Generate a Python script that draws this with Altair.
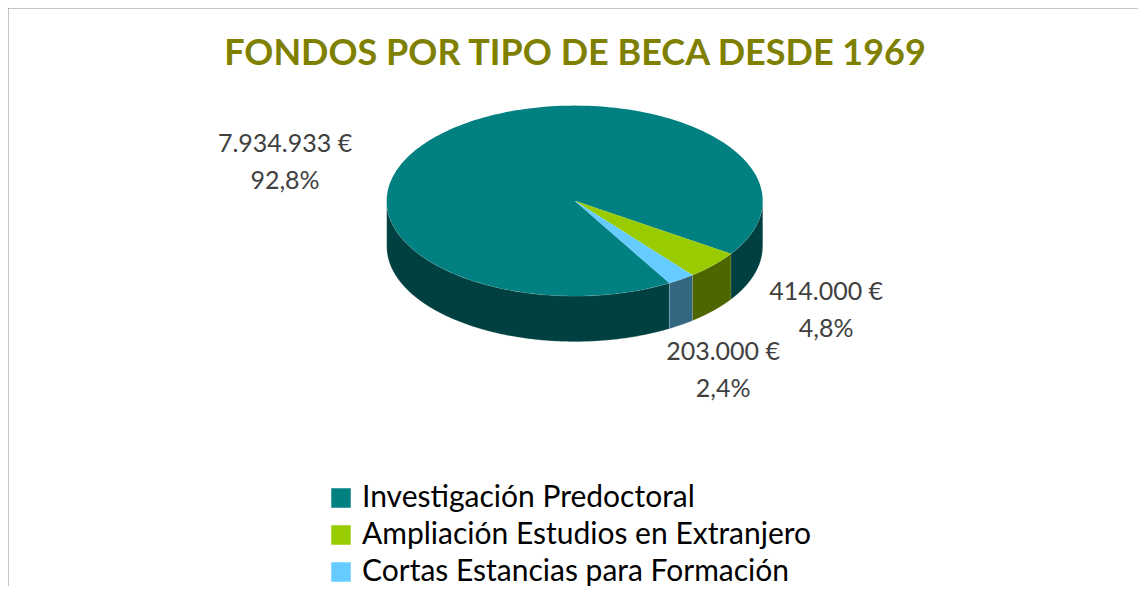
import altair as alt
import pandas as pd

# ---- data ----
categories = [
    "Investigación Predoctoral",
    "Ampliación Estudios en Extranjero",
    "Cortas Estancias para Formación",
]
values = [7934933, 414000, 203000]
TITLE = "FONDOS POR TIPO DE BECA DESDE 1969"

# ---- style ----
top_colors = ["#008080", "#99CC00", "#66CCFF"]
side_colors = ["#004040", "#4D6600", "#336680"]
label_dx = [-161, 113, 42]
label_dy = [13, 27, 73]

W, H = 1130, 578
CX, CY = 566.7, 192.8      # centre of top face
A, B = 188.0, 95.2          # radii of top face
AB, BB, CYB = 188.0, 95.2, 238.5  # bottom rim
T0 = 59.8                   # start angle of first slice (deg, clockwise from 3 o'clock)
K = 240

total = sum(values)


def eur(v):
    return f"{v:,}".replace(",", ".") + " €"


def pct(v):
    return f"{100 * v / total:.1f}".replace(".", ",") + "%"


df = pd.DataFrame({
    "cat": categories,
    "value": values,
    "order": list(range(len(values))),
    "side": side_colors,
    "vlab": [eur(v) for v in values],
    "plab": [pct(v) for v in values],
    "dx": label_dx,
    "dy": label_dy,
})

X = alt.X("x:Q", scale=alt.Scale(domain=[0, W], nice=False, zero=False), axis=None)
Y = alt.Y("y:Q", scale=alt.Scale(domain=[0, H], nice=False, zero=False, reverse=True), axis=None)

base = alt.Chart(df).transform_joinaggregate(
    total="sum(value)"
).transform_window(
    cum="sum(value)", sort=[alt.SortField("order")], frame=[None, 0]
).transform_calculate(
    ts=f"{T0} + 360 * (datum.cum - datum.value) / datum.total",
    te=f"{T0} + 360 * datum.cum / datum.total",
)

# side walls (front half only)
side = base.transform_calculate(
    pc="sequence(0, 2)"
).transform_flatten(["pc"], as_=["piece"]).transform_calculate(
    lo="max(datum.ts, datum.piece * 360)",
    hi="min(datum.te, datum.piece * 360 + 180)",
).transform_filter("datum.lo < datum.hi").transform_calculate(
    sid="datum.cat + '-' + datum.piece",
    ks=f"sequence(0, {2 * (K + 1)})",
).transform_flatten(["ks"], as_=["k"]).transform_calculate(
    bot=f"datum.k > {K} ? 1 : 0",
    j=f"datum.k > {K} ? datum.k - {K + 1} : datum.k",
    t=f"(datum.bot ? datum.hi - (datum.hi - datum.lo) * datum.j / {K} : datum.lo + (datum.hi - datum.lo) * datum.j / {K}) * PI / 180",
    x=f"{CX} + (datum.bot ? {AB} : {A}) * cos(datum.t)",
    y=f"datum.bot ? {CYB} + {BB} * sin(datum.t) : {CY} + {B} * sin(datum.t)",
).mark_line(filled=True, stroke="#ffffff", strokeWidth=0.6, strokeOpacity=0.4).encode(
    x=X, y=Y,
    color=alt.Color("side:N", scale=None),
    detail="sid:N",
    order=alt.Order("k:Q"),
)

# top face
top = base.transform_calculate(
    ks=f"sequence(-1, {K + 1})"
).transform_flatten(["ks"], as_=["k"]).transform_calculate(
    t=f"(datum.ts + (datum.te - datum.ts) * max(datum.k, 0) / {K}) * PI / 180",
    x=f"datum.k < 0 ? {CX} : {CX} + {A} * cos(datum.t)",
    y=f"datum.k < 0 ? {CY} : {CY} + {B} * sin(datum.t)",
).mark_line(filled=True).encode(
    x=X, y=Y,
    color=alt.Color(
        "cat:N",
        scale=alt.Scale(domain=categories, range=top_colors),
        legend=alt.Legend(
            orient="none", legendX=318, legendY=475, direction="vertical",
            title=None, symbolType="square", symbolSize=380, symbolStrokeWidth=0,
            labelFont="Lato", labelFontSize=30, labelColor="#000000",
            rowPadding=7, labelOffset=6, labelLimit=0,
        ),
    ),
    order=alt.Order("k:Q"),
)

labels = base.transform_calculate(
    mid="(datum.ts + datum.te) / 2 * PI / 180",
    x=f"{CX} + {A} * cos(datum.mid) + datum.dx",
    y=f"{CY} + {B} * sin(datum.mid) + datum.dy",
    txt="datum.vlab + '\\n' + datum.plab",
).mark_text(
    font="Lato", fontSize=25, color="#404040", lineBreak="\n", lineHeight=37,
    baseline="middle", align="center",
).encode(x=X, y=Y, text="txt:N")

title = alt.Chart(pd.DataFrame({"t": [TITLE]})).mark_text(
    font="Lato", fontWeight="bold", fontSize=36, color="#808000",
    align="center", baseline="alphabetic",
).encode(x=alt.value(567), y=alt.value(57), text="t:N")

left_rule = alt.Chart(pd.DataFrame({"a": [0]})).mark_rule(
    color="#8c8c8c", strokeWidth=2
).encode(x=alt.value(-0.5), y=alt.value(-1.5), y2=alt.value(H))

top_rule = alt.Chart(pd.DataFrame({"a": [0]})).mark_rule(
    color="#8c8c8c", strokeWidth=2
).encode(x=alt.value(-1.5), x2=alt.value(W), y=alt.value(-0.5))

chart = alt.layer(side, top, labels, title, left_rule, top_rule).properties(
    width=W, height=H, padding=0,
    autosize=alt.AutoSizeParams(type="none"),
).configure_view(strokeWidth=0)

chart.save("out.html", embed_options={"renderer": "svg", "actions": False})
